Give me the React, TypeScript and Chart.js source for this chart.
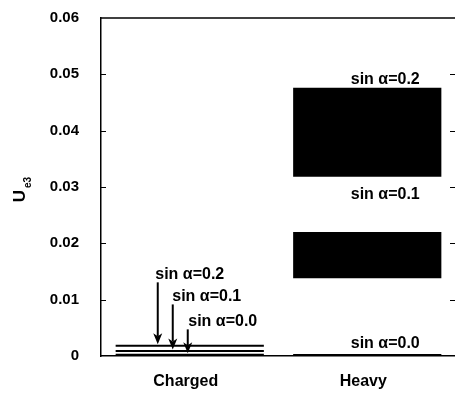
import { useEffect, useRef } from "react";
import { Chart, registerables } from "chart.js";

Chart.register(...registerables);

const categories = ["Charged", "Heavy"];
const seriesLabels = ["sin α=0.2", "sin α=0.1", "sin α=0.0"];
const chargedValues = [0.0018, 0.0009, 0.0002];
const heavyLow = [0.0318, 0.0138, 0.0];
const heavyHigh = [0.0476, 0.022, 0.00035];
const yTickValues = [0, 0.01, 0.02, 0.03, 0.04, 0.05, 0.06];

const FONT = "'Liberation Sans', Arial, sans-serif";
const LINE_HALF = 0.00018;

const annotationPlugin = {
  id: "annotations",
  afterDraw(chart: any) {
    const { ctx, chartArea, scales } = chart;
    const x = scales.x;
    const y = scales.y;
    ctx.save();
    ctx.strokeStyle = "#000";
    ctx.fillStyle = "#000";

    // top border
    ctx.lineWidth = 1.5;
    ctx.beginPath();
    ctx.moveTo(chartArea.left, chartArea.top);
    ctx.lineTo(chartArea.right, chartArea.top);
    ctx.stroke();

    // inward ticks left and right
    ctx.lineWidth = 1;
    for (const v of yTickValues) {
      if (v === 0 || v === 0.06) continue;
      const py = Math.round(y.getPixelForValue(v)) + 0.5;
      ctx.beginPath();
      ctx.moveTo(chartArea.left, py);
      ctx.lineTo(chartArea.left + 5, py);
      ctx.moveTo(chartArea.right - 6, py);
      ctx.lineTo(chartArea.right, py);
      ctx.stroke();
    }

    // Y title U_e3
    ctx.save();
    ctx.translate(20, 196);
    ctx.rotate(-Math.PI / 2);
    ctx.font = `bold 17px ${FONT}`;
    ctx.textAlign = "center";
    ctx.textBaseline = "middle";
    ctx.fillText("U", 0, 0);
    ctx.font = `bold 10px ${FONT}`;
    ctx.textAlign = "left";
    ctx.fillText("e3", 8, 8);
    ctx.restore();

    ctx.font = `bold 16px ${FONT}`;
    ctx.textAlign = "center";
    ctx.textBaseline = "middle";

    // Charged: arrows + labels
    const cx = x.getPixelForValue(0);
    const arrowDx = [-32, -17, -2];
    const arrowLen = [62, 45, 24];
    const textDx = [0, 17, 33];
    chargedValues.forEach((v, i) => {
      const tipY = y.getPixelForValue(v + LINE_HALF) - 0.5;
      const ax = cx + arrowDx[i];
      const topY = tipY - arrowLen[i];
      ctx.lineWidth = 2;
      ctx.beginPath();
      ctx.moveTo(ax, topY);
      ctx.lineTo(ax, tipY - 8);
      ctx.stroke();
      ctx.beginPath();
      ctx.moveTo(ax - 4.5, tipY - 11);
      ctx.lineTo(ax, tipY);
      ctx.lineTo(ax + 4.5, tipY - 11);
      ctx.lineTo(ax, tipY - 8);
      ctx.closePath();
      ctx.fill();
      ctx.fillText(seriesLabels[i], cx + textDx[i], topY - 8);
    });

    // Heavy labels
    const hx = x.getPixelForValue(1);
    const labelAbove = [8, 37, 10];
    heavyHigh.forEach((v, i) => {
      const top = y.getPixelForValue(v);
      ctx.fillText(seriesLabels[i], hx + 18, top - labelAbove[i]);
    });
    ctx.restore();
  },
};

export default function App() {
  const ref = useRef<HTMLCanvasElement | null>(null);

  useEffect(() => {
    document.body.style.margin = "0";
    const datasets = seriesLabels.map((label, i) => ({
      label,
      data: [
        [chargedValues[i] - LINE_HALF, chargedValues[i] + LINE_HALF],
        [heavyLow[i], heavyHigh[i]],
      ],
      backgroundColor: "#000",
      borderWidth: 0,
      grouped: false,
      barPercentage: 0.835,
      categoryPercentage: 1,
    }));
    const chart = new Chart(ref.current as HTMLCanvasElement, {
      type: "bar",
      data: { labels: categories, datasets: datasets as any },
      plugins: [annotationPlugin],
      options: {
        animation: false,
        responsive: false,
        maintainAspectRatio: false,
        layout: { padding: { top: 18, right: 6, left: 0, bottom: 0 } },
        plugins: { legend: { display: false }, tooltip: { enabled: false } },
        scales: {
          x: {
            type: "category",
            grid: { display: false, drawTicks: false },
            border: { display: true, color: "#000", width: 1.5 },
            ticks: {
              color: "#000",
              font: { family: FONT, size: 16, weight: "bold" },
              padding: 16,
              labelOffset: -4,
            },
            afterFit: (s: any) => {
              s.height = 38;
              s.paddingLeft = 0;
              s.paddingRight = 0;
            },
          },
          y: {
            min: 0,
            max: 0.06,
            grid: { display: false, drawTicks: false },
            border: { display: true, color: "#000", width: 1.5 },
            afterBuildTicks: (s: any) => {
              s.ticks = yTickValues.map((v) => ({ value: v }));
            },
            ticks: {
              color: "#000",
              font: { family: FONT, size: 15, weight: "bold" },
              padding: 22,
              callback: (v: any) => (Number(v) === 0 ? "0" : Number(v).toFixed(2)),
            },
            afterFit: (s: any) => {
              s.width = 101;
              s.paddingTop = 0;
              s.paddingBottom = 0;
            },
          },
        },
      },
    });
    return () => chart.destroy();
  }, []);

  return (
    <div style={{ position: "fixed", left: 0, top: 0, width: 455, height: 394, overflow: "hidden", background: "#fff" }}>
      <canvas ref={ref} width={462} height={394} style={{ width: 462, height: 394, display: "block" }} />
    </div>
  );
}
